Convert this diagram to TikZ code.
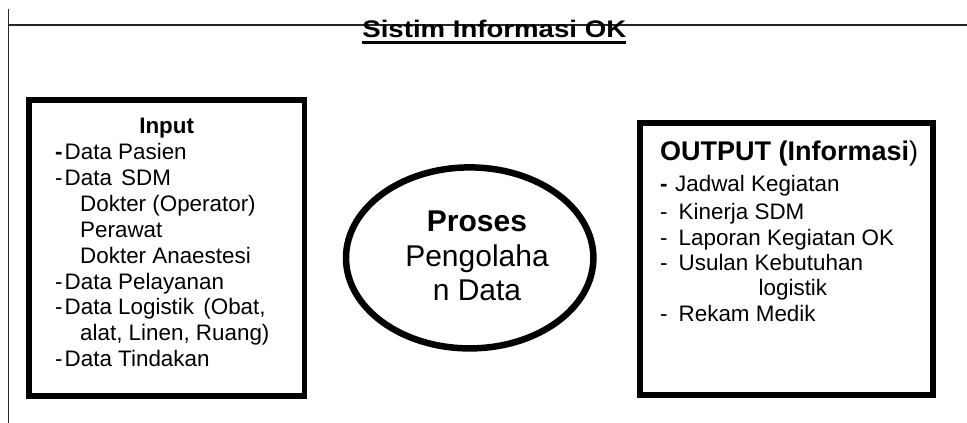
\documentclass[tikz,border=0pt]{standalone}
\usepackage{fontspec}
\setmainfont{Liberation Sans}
\usetikzlibrary{shapes.geometric}
\tikzset{
  thickbox/.style={draw, line width=5.5pt, rectangle, inner sep=0pt},
  procell/.style={draw, line width=6.5pt, ellipse, inner sep=0pt},
  listtxt/.style={anchor=base west, inner sep=0pt, font=\fontsize{22.4}{26}\selectfont},
  proctxt/.style={anchor=base, inner sep=0pt, font=\fontsize{30}{34}\selectfont},
  frameline/.style={line width=1.6pt, draw=black!85}
}
\begin{document}
\begin{tikzpicture}[x=1pt,y=-1pt]
\useasboundingbox (0,0) rectangle (967,423);
% frame lines
\coordinate (vtop) at (8.3,9.3);
\coordinate (vbot) at (8.3,423);
\coordinate (hl) at (8.3,25);
\coordinate (hr) at (967,25);
\draw[frameline, line width=1.5pt] (vtop) -- (vbot);
\draw[frameline] (hl) -- (hr);
% title
\node[anchor=base, inner sep=0pt, font=\fontsize{24}{28}\selectfont\bfseries] (title) at (494.3,37.3) {\scalebox{1.15}[1]{Sistim Informasi OK}};
\draw[line width=3.5pt] ([yshift=-5pt]title.base west) -- ([yshift=-5pt]title.base east);
% input box
\node[thickbox, minimum width=275.5pt, minimum height=296pt] (input) at (166.75,248) {};
\node[anchor=base, inner sep=0pt, font=\fontsize{22.4}{26}\selectfont\bfseries] (inhead) at (166.7,133.3) {Input};
\node[listtxt] (in1) at (55,159.3) {\makebox[9.5pt][l]{\textbf{-}}Data Pasien};
\node[listtxt] (in2) at (55,185.2) {\makebox[9.5pt][l]{-}Data\hspace{3pt} SDM};
\node[listtxt] (in3) at (80,211.2) {Dokter (Operator)};
\node[listtxt] (in4) at (80,237.2) {Perawat};
\node[listtxt] (in5) at (80,263.2) {Dokter Anaestesi};
\node[listtxt] (in6) at (55,289.0) {\makebox[9.5pt][l]{-}Data Pelayanan};
\node[listtxt] (in7) at (55,314.5) {\makebox[9.5pt][l]{-}Data Logistik\hspace{3pt} (Obat,};
\node[listtxt] (in8) at (80,340.0) {alat, Linen, Ruang)};
\node[listtxt] (in9) at (55,366.5) {\makebox[9.5pt][l]{-}Data Tindakan};
% process ellipse
\node[procell, minimum width=247.4pt, minimum height=181pt] (proc) at (469.7,257.9) {};
\node[proctxt, font=\fontsize{30}{34}\selectfont\bfseries] (p1) at (477,231.7) {Proses};
\node[proctxt] (p2) at (477,266) {Pengolaha};
\node[proctxt] (p3) at (477,300) {n Data};
% output box
\node[thickbox, line width=6pt, minimum width=293.3pt, minimum height=271.5pt] (output) at (786.35,258.75) {};
\node[anchor=base west, inner sep=0pt, font=\fontsize{27}{30}\selectfont] (outhead) at (660,160.7) {\textbf{OUTPUT (Informasi})};
\node[listtxt] (o1) at (660,191.7) {\makebox[15pt][l]{\textbf{-}}Jadwal Kegiatan};
\node[listtxt] (o2) at (660,219.3) {\makebox[18.5pt][l]{-}Kinerja SDM};
\node[listtxt] (o3) at (660,245.0) {\makebox[18.5pt][l]{-}Laporan Kegiatan OK};
\node[listtxt] (o4) at (660,270.0) {\makebox[18.5pt][l]{-}Usulan Kebutuhan};
\node[listtxt] (o5) at (758.5,295.7) {logistik};
\node[listtxt] (o6) at (660,321.7) {\makebox[18.5pt][l]{-}Rekam Medik};
\end{tikzpicture}
\end{document}
